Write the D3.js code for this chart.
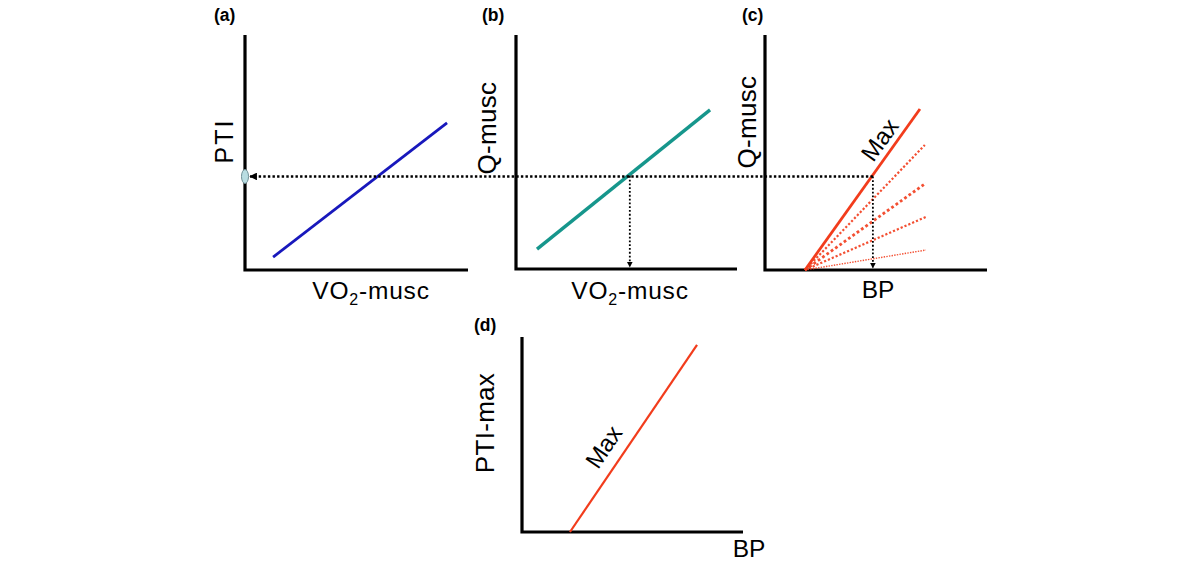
<!DOCTYPE html>
<html>
<head>
<meta charset="utf-8">
<script src="https://cdn.jsdelivr.net/npm/d3@7"></script>
<style>
  html, body { margin: 0; padding: 0; background: #fff; }
  svg { display: block; font-family: "Liberation Sans", Arial, Helvetica, sans-serif; }
</style>
</head>
<body>
<svg id="chart" width="1200" height="569"></svg>
<script>
// ---------- data ----------
const panelTags = ["(a)", "(b)", "(c)", "(d)"];
const yTitles = ["PTI", "Q-musc", "Q-musc", "PTI-max"];
const xTitles = ["VO2-musc", "VO2-musc", "BP", "BP"];
// straight relationships, endpoints in unit coordinates [0..10]
const ptiVsVo2 = [[1.26, 0.55], [9.06, 6.26]];
const qVsVo2 = [[0.95, 0.85], [8.78, 6.80]];
const qVsBpMax = [[1.80, 0], [6.98, 6.85]];
const qVsBpSubOrigin = [1.80, 0];
const qVsBpSubEnds = [[7.20, 5.32], [7.25, 3.70], [7.25, 2.26], [7.25, 0.85]];
const ptiMaxVsBp = [[2.17, 0], [7.92, 9.60]];
const qLevel = 3.98;   // operating Q-musc / PTI level
const vo2Mark = 5.15;  // VO2-musc at that level
const bpMark = 4.86;   // BP at that level

// ---------- layout ----------
const svg = d3.select("#chart");
const panels = [
  { x0: 245, x1: 468, y0: 270, y1: 35 },
  { x0: 516, x1: 737, y0: 269, y1: 35 },
  { x0: 765, x1: 987, y0: 270, y1: 35 },
  { x0: 522, x1: 743, y0: 532, y1: 337 }
];
panels.forEach(p => {
  p.x = d3.scaleLinear().domain([0, 10]).range([p.x0, p.x1]);
  p.y = d3.scaleLinear().domain([0, 10]).range([p.y0, p.y1]);
});

const RED = "#f23c1c", BLUE = "#1818bc", TEAL = "#16968c";

const defs = svg.append("defs");
defs.append("marker").attr("id", "arrow")
  .attr("viewBox", "0 0 10 10").attr("refX", 9).attr("refY", 5)
  .attr("markerWidth", 3.2).attr("markerHeight", 3.2).attr("orient", "auto")
  .attr("markerUnits", "strokeWidth")
  .append("path").attr("d", "M0,0 L10,5 L0,10 z").attr("fill", "#000");

const line = p => d3.line().x(d => p.x(d[0])).y(d => p.y(d[1]));

// axes
panels.forEach(p => {
  svg.append("path")
    .attr("d", `M${p.x(0)},${p.y(10)} L${p.x(0)},${p.y(0)} L${p.x(10)},${p.y(0)}`)
    .attr("fill", "none").attr("stroke", "#000").attr("stroke-width", 3.2)
    .attr("stroke-linejoin", "miter");
});

// panel tags
const tagPos = [[214, 21], [482, 21], [742, 21], [474, 331]];
panelTags.forEach((t, i) => {
  svg.append("text").attr("x", tagPos[i][0]).attr("y", tagPos[i][1])
    .attr("font-size", 17.5).attr("font-weight", "bold").text(t);
});

// y titles (rotated)
const yTitlePos = [[233, 141], [496, 128], [756, 122], [494, 423]];
yTitles.forEach((t, i) => {
  svg.append("text")
    .attr("transform", `translate(${yTitlePos[i][0]},${yTitlePos[i][1]}) rotate(-90)`)
    .attr("text-anchor", "middle").attr("font-size", i === 0 ? 25 : 26)
    .attr("letter-spacing", i === 0 ? 2 : 0.3)
    .text(t);
});

// x titles
const xTitlePos = [[371, 299], [630, 299], [878, 298], [749, 557]];
xTitles.forEach((t, i) => {
  const tx = svg.append("text").attr("x", xTitlePos[i][0]).attr("y", xTitlePos[i][1])
    .attr("text-anchor", "middle").attr("font-size", 24.5);
  if (t.startsWith("VO2")) {
    tx.attr("letter-spacing", 0.8);
    tx.append("tspan").text("VO");
    tx.append("tspan").attr("font-size", 16).attr("dy", 6).text("2");
    tx.append("tspan").attr("dy", -6).text(t.slice(3));
  } else {
    tx.text(t);
  }
});

const [pa, pb, pc, pd] = panels;

// (a) PTI vs VO2
svg.append("path").attr("d", line(pa)(ptiVsVo2))
  .attr("stroke", BLUE).attr("stroke-width", 2.8).attr("fill", "none");

// (b) Q vs VO2
svg.append("path").attr("d", line(pb)(qVsVo2))
  .attr("stroke", TEAL).attr("stroke-width", 3.4).attr("fill", "none");

// (c) Q vs BP : sub-maximal dotted lines
const subW = [2.2, 2.8, 2.2, 1.4];
qVsBpSubEnds.forEach((e, i) => {
  svg.append("path").attr("d", line(pc)([qVsBpSubOrigin, e]))
    .attr("stroke", RED).attr("stroke-width", subW[i])
    .attr("stroke-dasharray", `${subW[i]},${subW[i] * 0.9}`)
    .attr("fill", "none").attr("opacity", 0.9);
});
svg.append("path").attr("d", line(pc)(qVsBpMax))
  .attr("stroke", RED).attr("stroke-width", 2.8).attr("fill", "none");

// (d) PTI-max vs BP
svg.append("path").attr("d", line(pd)(ptiMaxVsBp))
  .attr("stroke", RED).attr("stroke-width", 2.2).attr("fill", "none");

// dotted guide lines
const dotted = sel => sel.attr("stroke", "#000").attr("stroke-width", 2.4)
  .attr("stroke-dasharray", "2.4,2.2").attr("fill", "none");
// horizontal: from (c) Max intersection back to PTI axis
svg.append("line")
  .attr("x1", pc.x(bpMark)).attr("y1", pc.y(qLevel))
  .attr("x2", pa.x(0) + 5).attr("y2", pa.y(qLevel))
  .call(dotted).attr("marker-end", "url(#arrow)");
// vertical in (b)
svg.append("line")
  .attr("x1", pb.x(vo2Mark)).attr("y1", pb.y(qLevel))
  .attr("x2", pb.x(vo2Mark)).attr("y2", pb.y(0) - 2)
  .call(dotted).attr("stroke-width", 1.8).attr("stroke-dasharray", "1.8,2")
  .attr("marker-end", "url(#arrow)");
// vertical in (c)
svg.append("line")
  .attr("x1", pc.x(bpMark)).attr("y1", pc.y(qLevel))
  .attr("x2", pc.x(bpMark)).attr("y2", pc.y(0) - 2)
  .call(dotted).attr("stroke-width", 1.8).attr("stroke-dasharray", "1.8,2")
  .attr("marker-end", "url(#arrow)");

// marker on the PTI axis
svg.append("ellipse").attr("cx", pa.x(0)).attr("cy", pa.y(qLevel))
  .attr("rx", 3.5).attr("ry", 7)
  .attr("fill", "#b9dde2").attr("stroke", "#6f8f96").attr("stroke-width", 1);

// "Max" labels
const angC = Math.atan2(pc.y(qVsBpMax[0][1]) - pc.y(qVsBpMax[1][1]), pc.x(qVsBpMax[1][0]) - pc.x(qVsBpMax[0][0])) * 180 / Math.PI;
svg.append("text").attr("transform", `translate(880,140) rotate(${-angC})`)
  .attr("text-anchor", "middle").attr("dy", 8).attr("font-size", 24).text("Max");
const angD = Math.atan2(pd.y(ptiMaxVsBp[0][1]) - pd.y(ptiMaxVsBp[1][1]), pd.x(ptiMaxVsBp[1][0]) - pd.x(ptiMaxVsBp[0][0])) * 180 / Math.PI;
svg.append("text").attr("transform", `translate(604,447) rotate(${-angD})`)
  .attr("text-anchor", "middle").attr("dy", 8).attr("font-size", 24).text("Max");
</script>
</body>
</html>
